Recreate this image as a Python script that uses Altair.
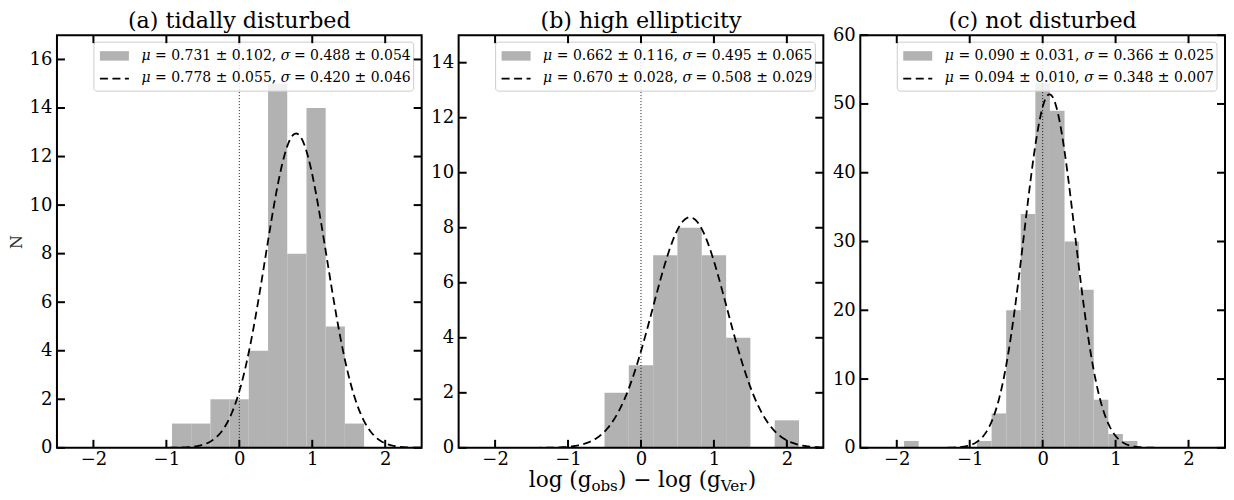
import altair as alt
import numpy as np
import pandas as pd

FONT = "DejaVu Serif"
W, H = 365, 413
XMIN, XMAX = -2.5, 2.5
BAR_COLOR = "#b2b2b2"
TICK_LEN = 8

# ---------------- data ----------------
titles = ["(a) tidally disturbed", "(b) high ellipticity", "(c) not disturbed"]

edges_a = [-0.923, -0.660, -0.396, -0.133, 0.130, 0.394, 0.657, 0.921, 1.184, 1.447, 1.711]
counts_a = [1, 1, 2, 2, 4, 15, 8, 14, 5, 1]

edges_b = [-0.500, -0.167, 0.167, 0.500, 0.833, 1.167, 1.500, 1.833, 2.167]
counts_b = [2, 3, 7, 8, 7, 4, 0, 1]

edges_c = [-1.9, -1.7, -1.5, -1.3, -1.1, -0.9, -0.7, -0.5, -0.3, -0.1,
           0.1, 0.3, 0.5, 0.7, 0.9, 1.1, 1.3]
counts_c = [1, 0, 0, 0, 0, 1, 5, 20, 34, 53, 49, 30, 23, 7, 2, 1]

# Gaussian fit (dashed curve) parameters: mean, width, peak height
fit_mu = [0.778, 0.670, 0.094]
fit_sigma = [0.420, 0.508, 0.348]
fit_peak = [12.95, 8.38, 51.4]

# legend numbers: (mu, mu_err, sigma, sigma_err) as printed
legend_hist = [
    ("0.731", "0.102", "0.488", "0.054"),
    ("0.662", "0.116", "0.495", "0.065"),
    ("0.090", "0.031", "0.366", "0.025"),
]
legend_fit = [
    ("0.778", "0.055", "0.420", "0.046"),
    ("0.670", "0.028", "0.508", "0.029"),
    ("0.094", "0.010", "0.348", "0.007"),
]

y_max = [17, 15, 60]
y_ticks = [
    [0, 2, 4, 6, 8, 10, 12, 14, 16],
    [0, 2, 4, 6, 8, 10, 12, 14],
    [0, 10, 20, 30, 40, 50, 60],
]
x_ticks = [-2, -1, 0, 1, 2]

# x-axis label pieces (main text / subscripts)
xlabel_parts = ["log (g", "obs", ") − log (g", "Ver", ")"]
xlabel_is_sub = [False, True, False, True, False]

# ------------------------------------------------------------
one = pd.DataFrame({"k": [0]})
EM = {"l": .320, "o": .602, "g": .635, " ": .318, "(": .390, ")": .390,
      "b": .641, "s": .513, "−": .838, "V": .722, "e": .592, "r": .478,
      "=": .838, "±": .838, ".": .318, ",": .318, "μ": .66, "σ": .62}
for d in "0123456789":
    EM[d] = .636


def text_width(s, size):
    return sum(EM.get(ch, 0.6) for ch in s) * size


def text_pieces(pieces, x0, y, size, baseline="middle"):
    """pieces: list of (text, italic), laid out left to right.
    Leading/trailing spaces are turned into offsets (SVG drops them)."""
    out = []
    x = x0
    for txt, ital in pieces:
        lead = len(txt) - len(txt.lstrip(" "))
        trail = len(txt) - len(txt.rstrip(" "))
        core = txt.strip(" ")
        x += text_width(" " * lead, size)
        kw = dict(text=core, font=FONT, fontSize=size, align="left",
                  baseline=baseline, color="black")
        if ital:
            kw["fontStyle"] = "italic"
        out.append(alt.Chart(one).mark_text(**kw).encode(
            x=alt.value(x), y=alt.value(y)))
        x += text_width(core, size) + text_width(" " * trail, size)
    return out


def legend_line(vals):
    m, me, s, se = vals
    return [("μ", True), (f" = {m} ± {me}, ", False), ("σ", True),
            (f" = {s} ± {se}", False)]


def panel(i, edges, counts, show_ylabel, show_xlabel):
    xs = alt.Scale(domain=[XMIN, XMAX], nice=False, zero=False)
    ys = alt.Scale(domain=[0, y_max[i]], nice=False, zero=False)
    bars_df = pd.DataFrame({"lo": edges[:-1], "hi": edges[1:], "n": counts,
                            "z": [0] * len(counts)})

    lab_x = alt.Axis(values=x_ticks, ticks=False, domain=False, grid=False,
                     labelFont=FONT, labelFontSize=18, labelColor="black",
                     labelPadding=3, title=None, orient="bottom")
    ykw = dict(values=y_ticks[i], ticks=False, domain=False, grid=False,
               labelFont=FONT, labelFontSize=18, labelColor="black",
               labelPadding=5, orient="left")
    if show_ylabel:
        lab_y = alt.Axis(title="N", titleFont=FONT, titleFontSize=16,
                         titleFontWeight="normal", titleColor="#333333",
                         titlePadding=5, **ykw)
    else:
        lab_y = alt.Axis(title=None, **ykw)

    bars = alt.Chart(bars_df).mark_rect(color=BAR_COLOR, strokeWidth=0).encode(
        x=alt.X("lo:Q", scale=xs, axis=lab_x),
        x2="hi:Q",
        y=alt.Y("n:Q", scale=ys, axis=lab_y),
        y2="z:Q",
    )

    vline = alt.Chart(pd.DataFrame({"x0": [0.0]})).mark_rule(
        color="black", strokeWidth=0.9, strokeDash=[1, 2]
    ).encode(x=alt.X("x0:Q", scale=xs, axis=None))

    gx = np.linspace(XMIN, XMAX, 501)
    gy = fit_peak[i] * np.exp(-0.5 * ((gx - fit_mu[i]) / fit_sigma[i]) ** 2)
    gdf = pd.DataFrame({"gx": gx, "gy": gy})
    gauss = alt.Chart(gdf).mark_line(
        color="black", strokeWidth=1.8, strokeDash=[8, 4.5], clip=True
    ).encode(
        x=alt.X("gx:Q", scale=xs, axis=None),
        y=alt.Y("gy:Q", scale=ys, axis=None),
    )

    # legend
    box = alt.Chart(one).mark_rect(
        fill="white", fillOpacity=0.8, stroke="#cccccc", strokeWidth=1,
        cornerRadius=3
    ).encode(x=alt.value(37), x2=alt.value(357), y=alt.value(7), y2=alt.value(56))
    patch = alt.Chart(one).mark_rect(fill=BAR_COLOR).encode(
        x=alt.value(43), x2=alt.value(72), y=alt.value(16), y2=alt.value(25.5))
    dash = alt.Chart(one).mark_rule(color="black", strokeWidth=1.8,
                                    strokeDash=[8, 4.5]).encode(
        x=alt.value(43), x2=alt.value(72), y=alt.value(43.5))
    leg_text = (text_pieces(legend_line(legend_hist[i]), 84.5, 21, 14) +
                text_pieces(legend_line(legend_fit[i]), 84.5, 42.5, 14))

    # inward ticks on all four sides + frame
    xt = pd.DataFrame({"t": x_ticks})
    yt = pd.DataFrame({"t": y_ticks[i]})
    tick_style = dict(color="black", strokeWidth=2)
    tb = alt.Chart(xt).mark_rule(**tick_style).encode(
        x=alt.X("t:Q", scale=xs, axis=None), y=alt.value(H), y2=alt.value(H - TICK_LEN))
    tt = alt.Chart(xt).mark_rule(**tick_style).encode(
        x=alt.X("t:Q", scale=xs, axis=None), y=alt.value(0), y2=alt.value(TICK_LEN))
    tl = alt.Chart(yt).mark_rule(**tick_style).encode(
        y=alt.Y("t:Q", scale=ys, axis=None), x=alt.value(0), x2=alt.value(TICK_LEN))
    tr = alt.Chart(yt).mark_rule(**tick_style).encode(
        y=alt.Y("t:Q", scale=ys, axis=None), x=alt.value(W), x2=alt.value(W - TICK_LEN))
    frame = alt.Chart(one).mark_rect(fillOpacity=0, stroke="black", strokeWidth=2).encode(
        x=alt.value(0), x2=alt.value(W), y=alt.value(0), y2=alt.value(H))

    # panel title as text above the frame
    ttl = alt.Chart(one).mark_text(text=titles[i], font=FONT, fontSize=22.2,
                                   align="center", baseline="alphabetic",
                                   color="black").encode(
        x=alt.value(W / 2), y=alt.value(-7.5))

    layers = [bars, vline, gauss, box, patch, dash] + leg_text + \
             [tb, tt, tl, tr, frame, ttl]

    if show_xlabel:
        main_size, sub_size = 21.6, 15.1
        widths = [text_width(p, sub_size if s else main_size)
                  for p, s in zip(xlabel_parts, xlabel_is_sub)]
        x0 = W / 2 - sum(widths) / 2 + 1.5
        for part, sub, wd in zip(xlabel_parts, xlabel_is_sub, widths):
            layers.append(
                alt.Chart(one).mark_text(
                    text=part, font=FONT, fontSize=sub_size if sub else main_size,
                    align="left", baseline="alphabetic", color="black"
                ).encode(x=alt.value(x0), y=alt.value(H + 43 if sub else H + 39))
            )
            x0 += wd

    return alt.layer(*layers).resolve_axis(x="independent", y="independent").properties(
        width=W, height=H,
    )


pa = panel(0, edges_a, counts_a, True, False)
pb = panel(1, edges_b, counts_b, False, True)
pc = panel(2, edges_c, counts_c, False, False)

chart = alt.hconcat(pa, pb, pc, spacing=37, bounds="flush").properties(
    padding={"left": 0, "top": 1, "right": 0, "bottom": 0}
).configure_view(stroke=None)

chart.save("out.html", embed_options={"renderer": "svg", "actions": False})
